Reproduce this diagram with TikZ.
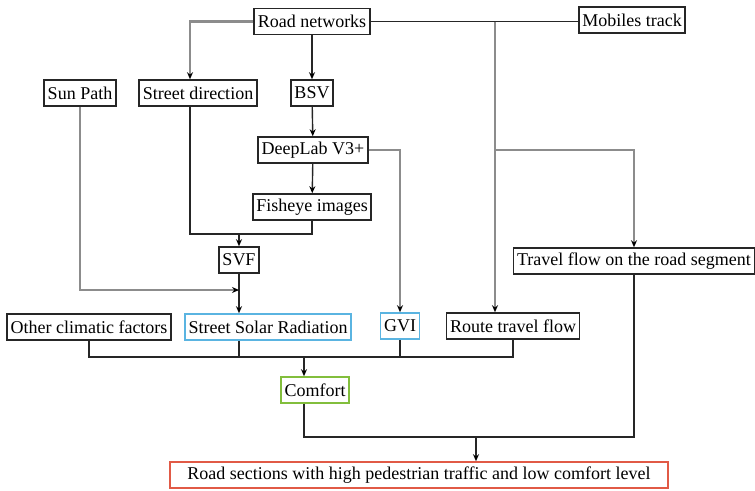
\documentclass[tikz,border=0pt]{standalone}
\usepackage{fontspec}
\setmainfont{Liberation Serif}
\usetikzlibrary{arrows.meta}
\definecolor{boxblue}{RGB}{90,180,225}
\definecolor{boxgreen}{RGB}{130,190,60}
\definecolor{boxred}{RGB}{225,90,70}
\begin{document}
\begin{tikzpicture}
      [x=1pt, y=-1pt,
      every node/.style={rectangle, draw=black!85, line width=1.6pt, inner xsep=3.5pt, inner ysep=2pt,
        minimum height=26pt, font=\fontsize{18}{20}\selectfont},
      blue box/.style={draw=boxblue},
      green box/.style={draw=boxgreen},
      red box/.style={draw=boxred},
      link/.style={line width=1.4pt, draw=black!85},
      glink/.style={line width=2.2pt, draw=black!45},
      >={Stealth[length=7pt,width=6pt,color=black]},
      ]
      \useasboundingbox (0,0) rectangle (755,490);
      \node (rn) at (312,21.5) {Road networks};
      \node (mt) at (632,20) {Mobiles track};
      \node (sp) at (80,93) {Sun Path};
      \node (sd) at (198,93) {Street direction};
      \node (bsv) at (312,93) {BSV};
      \node (dl) at (313,150) {DeepLab V3+};
      \node (fe) at (312,207) {Fisheye images};
      \node (svf) at (239,260) {SVF};
      \node (tf) at (634,261) {Travel flow on the road segment};
      \node (ocf) at (89,327) {Other climatic factors};
      \node[blue box] (ssr) at (268,327) {Street Solar Radiation};
      \node[blue box] (gvi) at (400,326) {GVI};
      \node (rtf) at (513,326) {Route travel flow};
      \node[green box] (cf) at (315,390) {Comfort};
      \node[red box, minimum width=498pt] (rs) at (419,475) {Road sections with high pedestrian traffic and low comfort level};
      \coordinate (j1) at (495,21.5);
      \coordinate (j2) at (495,150);
      \coordinate (j3) at (239,234);
      \coordinate (j4) at (239,290);
      \coordinate (j5) at (304,357);
      \coordinate (j6) at (476,437);
      \draw[glink,->] (rn.west) -| ([xshift=-8pt]sd.north);
      \draw[link,->] (rn) -- (bsv);
      \draw[link] (rn.east) -- (rn.east -| mt.west);
      \draw[glink,->] (j1) -- (j1 |- rtf.north);
      \draw[glink,->] (j2) -| (tf.north);
      \draw[link,->] (bsv) -- (dl);
      \draw[link,->] (dl) -- (fe);
      \draw[glink,->] (dl.east) -| (gvi.north);
      \draw[link] ([xshift=-8pt]sd.south) |- (j3 -| fe.south) -- (fe.south);
      \draw[link,->] (j3) -- (svf);
      \draw[link,->] (svf) -- (svf |- ssr.north);
      \draw[glink,->] (sp.south) |- (j4);
      \draw[link] (ocf.south) |- (j5 -| rtf.south) -- (rtf.south);
      \draw[link] (ssr.south -| svf) -- (j5 -| svf);
      \draw[link] (gvi.south) -- (gvi.south |- j5);
      \draw[link,->] (j5) -- (j5 |- cf.north);
      \draw[link] (j5 |- cf.south) |- (j6 -| tf.south) -- (tf.south);
      \draw[link,->] (j6) -- (j6 |- rs.north);
      \end{tikzpicture}
\end{document}
